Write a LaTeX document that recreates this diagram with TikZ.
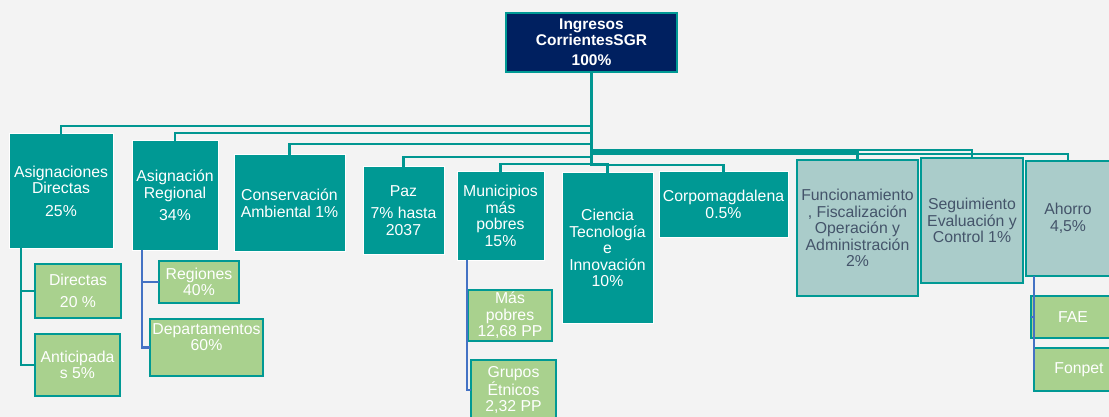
\documentclass[tikz,border=0pt]{standalone}
\usepackage{fontspec}
\setmainfont{Liberation Sans}
\usetikzlibrary{calc}
\definecolor{teal1}{RGB}{0,153,148}
\definecolor{tealline}{RGB}{0,150,145}
\definecolor{navy}{RGB}{0,32,96}
\definecolor{green1}{RGB}{169,209,142}
\definecolor{grey1}{RGB}{170,204,202}
\definecolor{slate}{RGB}{68,84,106}
\definecolor{blue1}{RGB}{68,114,196}
\definecolor{bg}{RGB}{243,243,243}
\begin{document}
\begin{tikzpicture}[x=1pt,y=-1pt,
 base/.style={anchor=north west, inner sep=0pt, outer sep=0pt, align=center, font=\fontsize{15.8}{16.6}\selectfont},
 tbox/.style={base, fill=teal1, draw=white, line width=1pt, text=white},
 gbox/.style={base, fill=green1, draw=teal1, line width=2.5pt, text=white},
 lbox/.style={base, fill=grey1, draw=teal1, line width=2.5pt, text=slate},
 rootbox/.style={base, fill=navy, draw=teal1, line width=2pt, text=white, font=\fontsize{15.5}{15.5}\selectfont\bfseries},
 conn/.style={draw=tealline, line width=2.6pt},
 bconn/.style={draw=blue1, line width=2.6pt},
]
\clip (0,0) rectangle (1109,417);
\fill[bg] (0,0) rectangle (1109,417);

% top
\node[rootbox, minimum width=171pt, minimum height=59pt] (root) at (506,13) {Ingresos\\CorrientesSGR\\[5pt]100\%};

% level 1
\node[tbox, minimum width=104pt, minimum height=114pt] (ad) at (9,134) {Asignaciones\\Directas\\[6pt]25\%};
\node[tbox, minimum width=86pt, minimum height=109pt] (ar) at (132,141) {Asignación\\Regional\\[6pt]34\%};
\node[tbox, minimum width=111pt, minimum height=96pt] (ca) at (234,155) {Conservación\\Ambiental 1\%};
\node[tbox, minimum width=81pt, minimum height=87pt] (paz) at (363,167) {Paz\\[6pt]7\% hasta\\2037};
\node[tbox, minimum width=87pt, minimum height=88pt] (mun) at (457,172) {Municipios\\más\\pobres\\15\%};
\node[tbox, minimum width=91pt, minimum height=150pt] (cti) at (562,173) {Ciencia\\Tecnología\\e\\Innovación\\10\%};
\node[tbox, minimum width=129pt, minimum height=65pt] (cor) at (659,172) {Corpomagdalena\\0.5\%};
\node[lbox, minimum width=121pt, minimum height=136pt] (fun) at (797,160) {Funcionamiento\\, Fiscalización\\Operación y\\Administración\\2\%};
\node[lbox, minimum width=102pt, minimum height=125pt] (seg) at (921,158) {Seguimiento\\Evaluación y\\Control 1\%};
\node[lbox, minimum width=84pt, minimum height=115pt] (aho) at (1026,161) {Ahorro\\4,5\%};

% level 2
\node[gbox, minimum width=86pt, minimum height=54pt] (dir) at (35,264) {Directas\\[6pt]20 \%};
\node[gbox, minimum width=85pt, minimum height=62pt] (ant) at (35,334) {Anticipada\\s 5\%};
\node[gbox, minimum width=80pt, minimum height=42pt] (reg) at (159,261) {Regiones\\40\%};
\node[gbox, minimum width=113pt, minimum height=57pt] (dep) at (150,319) {Departamentos\\60\%\\[4pt]\phantom{0}};
\node[gbox, minimum width=84pt, minimum height=51pt] (mp) at (468,290) {Más\\pobres\\12,68 PP};
\node[gbox, minimum width=85pt, minimum height=60pt] (ge) at (471,360) {Grupos\\Étnicos\\2,32 PP};
\node[gbox, minimum width=84pt, minimum height=42pt] (fae) at (1031,296) {FAE};
\node[gbox, minimum width=90pt, minimum height=43pt] (fon) at (1034,348) {Fonpet};

% connectors from root
\draw[conn] (root.south) |- ([yshift=8pt]ad.north) -- (ad.north);
\draw[conn] (root.south) |- ([yshift=8pt]ar.north) -- (ar.north);
\draw[conn] (root.south) |- ([yshift=11pt]ca.north) -- (ca.north);
\draw[conn] (root.south) |- ([yshift=10pt]paz.north) -- (paz.north);
\draw[conn] (root.south) |- ([yshift=8pt]mun.north) -- (mun.north);
\draw[conn] (root.south) |- ([yshift=9pt]cti.north) -- (cti.north);
\draw[conn] (root.south) |- ([yshift=7pt]cor.north) -- (cor.north);
\draw[conn] (root.south) |- ([yshift=8pt]fun.north) -- (fun.north);
\draw[conn] (root.south) |- ([yshift=8pt]seg.north) -- (seg.north);
\draw[conn] (root.south) |- ([yshift=7pt]aho.north) -- (aho.north);

% sub connectors
\draw[conn] ([xshift=12pt]ad.south west) |- (dir.west);
\draw[conn] ([xshift=12pt]ad.south west) |- (ant.west);
\draw[bconn] ([xshift=10pt]ar.south west) |- (reg.west);
\draw[bconn] ([xshift=10pt]ar.south west) |- (dep.west);
\draw[bconn] ([xshift=10pt]mun.south west) |- (mp.west);
\draw[bconn] ([xshift=10pt]mun.south west) |- (ge.west);
\draw[bconn] ([xshift=8pt]aho.south west) |- (fae.west);
\draw[bconn] ([xshift=8pt]aho.south west) |- (fon.west);
\end{tikzpicture}
\end{document}
